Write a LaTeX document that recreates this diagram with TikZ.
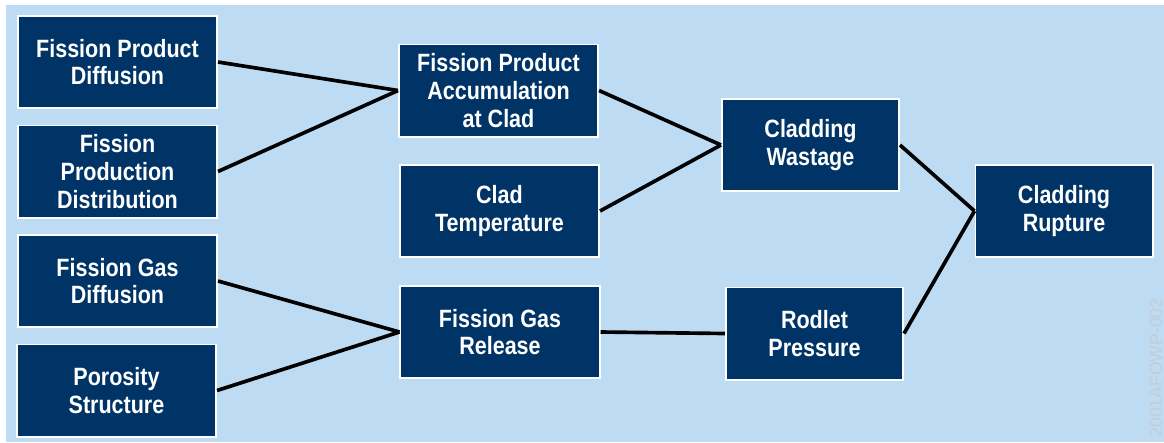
\documentclass[tikz,border=0pt]{standalone}
\usepackage{fontspec}
\newfontfamily\boxfont{Liberation Sans}[FakeStretch=0.86]
\definecolor{bgblue}{RGB}{189,220,244}
\definecolor{boxnavy}{RGB}{0,51,102}
\definecolor{markgray}{RGB}{196,204,214}

\tikzset{every picture/.style={line width=2.6pt}}
\tikzset{
  blk/.style={draw=white, line width=1.4pt, fill=boxnavy, text=white, align=center,
    inner sep=0pt, font=\boxfont\bfseries\fontsize{17.8}{19.8}\selectfont},
  wideblk/.style={blk, minimum width=4.975cm, minimum height=2.3cm},
  narrowblk/.style={blk, minimum width=4.425cm, minimum height=2.3cm}
}

\begin{document}
\begin{tikzpicture}[x=0.025cm, y=-0.025cm]
\useasboundingbox (0,0) rectangle (1164,442);
\fill [white] (0,0) rectangle (1164,442);
\fill [bgblue] (6,5) rectangle (1164,442);
% left column
\node [wideblk] (fpdiff) at (117.5,62) {Fission Product\\Diffusion};
\node [wideblk] (fpdist) at (117.5,171.5) {Fission\\Production\\Distribution};
\node [wideblk] (fgdiff) at (117.5,281) {Fission Gas\\Diffusion};
\node [wideblk] (poros) at (116.5,390.5) {Porosity\\Structure};
% middle column
\node [wideblk] (fpacc) at (498.5,90.5) {Fission Product\\Accumulation\\at Clad};
\node [wideblk] (cladt) at (499.5,211) {Clad\\Temperature};
\node [wideblk] (fgrel) at (500,332) {Fission Gas\\Release};
% right columns
\node [narrowblk] (waste) at (810.5,145) {Cladding\\Wastage};
\node [narrowblk] (rodp) at (814.5,333.5) {Rodlet\\Pressure};
\node [narrowblk] (rupt) at (1064,211) {Cladding\\Rupture};
% connectors
\draw [black] (fpdiff.east) -- (fpacc.west);
\draw [black] (fpdist.east) -- (fpacc.west);
\draw [black] (fgdiff.east) -- (fgrel.west);
\draw [black] (poros.east) -- (fgrel.west);
\draw [black] (fpacc.east) -- (waste.west);
\draw [black] (cladt.east) -- (waste.west);
\draw [black] (fgrel.east) -- (rodp.west);
\draw [black] (waste.east) -- (rupt.west);
\draw [black] (rodp.east) -- (rupt.west);
\node [rotate=90, text=markgray, inner sep=0pt, font=\fontspec{Liberation Sans}\fontsize{12.5}{12.5}\selectfont] (mark) at (1156,368) {2001AFOWP-002};
\end{tikzpicture}
\end{document}
